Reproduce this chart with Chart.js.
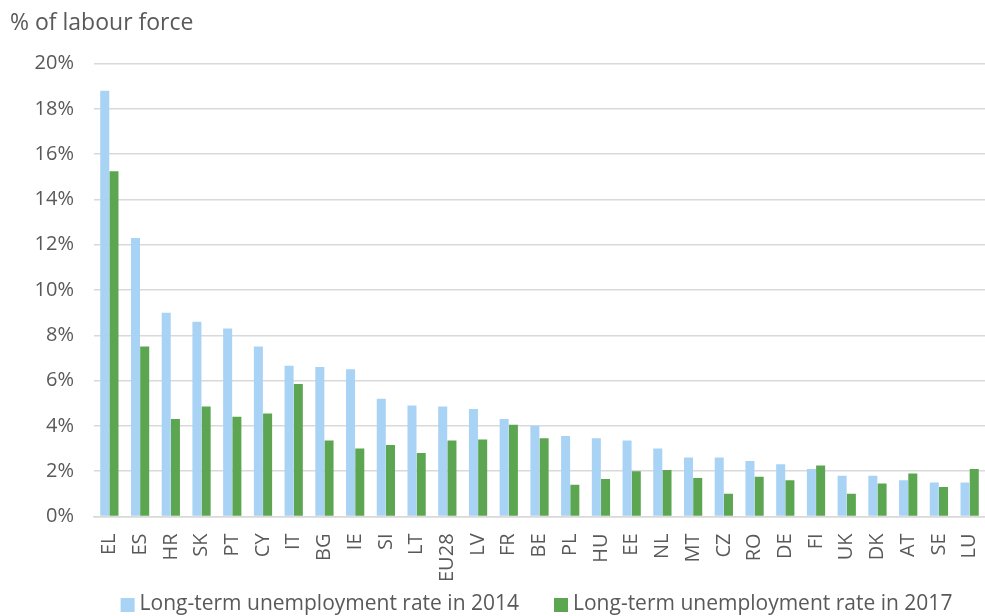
<!DOCTYPE html>
<html>
<head>
<meta charset="utf-8">
<script src="https://cdn.jsdelivr.net/npm/chart.js@4/dist/chart.umd.min.js"></script>
<style>
html,body{margin:0;padding:0;background:#fff;}
#wrap{width:985px;height:616px;position:relative;}
</style>
</head>
<body>
<div id="wrap"><canvas id="c"></canvas></div>
<script>
const categories = ["EL","ES","HR","SK","PT","CY","IT","BG","IE","SI","LT","EU28","LV","FR","BE","PL","HU","EE","NL","MT","CZ","RO","DE","FI","UK","DK","AT","SE","LU"];
const rate2014 = [18.8,12.3,9.0,8.6,8.3,7.5,6.65,6.6,6.5,5.2,4.9,4.85,4.75,4.3,4.0,3.55,3.45,3.35,3.0,2.6,2.6,2.45,2.3,2.1,1.8,1.8,1.6,1.5,1.5];
const rate2017 = [15.25,7.5,4.3,4.85,4.4,4.55,5.85,3.35,3.0,3.15,2.8,3.35,3.4,4.05,3.45,1.4,1.65,2.0,2.05,1.7,1.0,1.75,1.6,2.25,1.0,1.45,1.9,1.3,2.1];
const yTicks = [0,2,4,6,8,10,12,14,16,18,20];
const seriesNames = ["Long-term unemployment rate in 2014","Long-term unemployment rate in 2017"];
const titleText = "% of labour force";

const FONT = "'Open Sans', 'DejaVu Sans', sans-serif";
const GREY = "#595959";

// Bottom legend drawn from the chart's own dataset labels/colours
const bottomLegend = {
  id: 'bottomLegend',
  afterDraw(chart) {
    const ctx = chart.ctx;
    const items = chart.data.datasets.map(d => ({text: d.label, color: d.backgroundColor}));
    const box = 14, gapText = 5, gapItem = 35;
    ctx.save();
    ctx.font = "21px " + FONT;
    ctx.textBaseline = 'middle';
    ctx.textAlign = 'left';
    const widths = items.map(it => box + gapText + ctx.measureText(it.text).width);
    const total = widths.reduce((a, b) => a + b, 0) + gapItem * (items.length - 1);
    const ca = chart.chartArea;
    let x = (ca.left + ca.right) / 2 - total / 2 - 3;
    const yMid = 605;
    items.forEach((it, i) => {
      ctx.fillStyle = it.color;
      ctx.fillRect(x, yMid - box / 2, box, box);
      ctx.fillStyle = GREY;
      ctx.fillText(it.text, x + box + gapText, yMid - 1);
      x += widths[i] + gapItem;
    });
    ctx.restore();
  }
};

new Chart(document.getElementById('c'), {
  type: 'bar',
  data: {
    labels: categories,
    datasets: [
      {label: seriesNames[0], data: rate2014, backgroundColor: '#a9d3f5', borderWidth: 0},
      {label: seriesNames[1], data: rate2017, backgroundColor: '#5ca651', borderWidth: 0}
    ]
  },
  plugins: [bottomLegend],
  options: {
    responsive: true,
    maintainAspectRatio: false,
    animation: false,
    layout: {padding: {left: 10, right: 0, top: 0, bottom: 25}},
    datasets: {bar: {categoryPercentage: 0.6, barPercentage: 0.98}},
    plugins: {
      title: {
        display: true, text: titleText, align: 'start',
        color: GREY, font: {family: FONT, size: 23, weight: 'normal'},
        padding: {top: 10, bottom: 26}
      },
      legend: {display: false},
      tooltip: {enabled: false}
    },
    scales: {
      x: {
        afterFit: (s) => { s.paddingRight = 0; s.paddingLeft = 0; },
        grid: {display: false},
        border: {display: true, color: '#d9d9d9', width: 1.5},
        ticks: {
          color: GREY, font: {family: FONT, size: 20},
          maxRotation: 90, minRotation: 90, autoSkip: false, padding: 9
        }
      },
      y: {
        min: 0, max: 20,
        afterBuildTicks: (s) => { s.ticks = yTicks.map(v => ({value: v})); },
        afterFit: (s) => { s.width = 84; },
        grid: {color: '#d9d9d9', lineWidth: 1.5, drawTicks: false},
        border: {display: false},
        ticks: {
          color: GREY, font: {family: FONT, size: 20}, padding: 20,
          callback: (v) => v + '%'
        }
      }
    }
  }
});
</script>
</body>
</html>
